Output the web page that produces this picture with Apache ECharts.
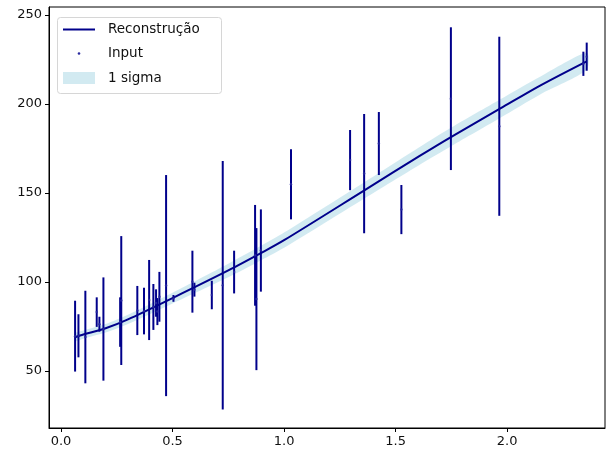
<!DOCTYPE html>
<html>
<head>
<meta charset="utf-8">
<script src="https://cdn.jsdelivr.net/npm/echarts@6/dist/echarts.min.js"></script>
<style>
  html, body { margin: 0; padding: 0; background: #fff; }
  #chart { width: 610px; height: 455px; }
</style>
</head>
<body>
<div id="chart"></div>
<script>
// input points with 1-sigma error bars
const inputX = [0.063, 0.078, 0.109, 0.160, 0.172, 0.190, 0.265, 0.270, 0.342, 0.372, 0.395, 0.414, 0.426, 0.432, 0.441, 0.471, 0.504, 0.589, 0.598, 0.676, 0.725, 0.776, 0.870, 0.876, 0.896, 1.031, 1.296, 1.359, 1.425, 1.526, 1.748, 1.965, 2.342, 2.357];
const inputY = [69.6, 69.8, 69.1, 83.1, 76.3, 73.6, 77.5, 89.6, 84.0, 83.7, 89.9, 86.0, 88.2, 83.4, 91.7, 98.0, 90.8, 100.2, 95.7, 92.7, 98.2, 105.6, 115.0, 90.4, 117.7, 154.9, 168.5, 160.9, 177.8, 140.7, 203.0, 187.5, 222.6, 226.6];
const inputErr = [19.9, 12.1, 26.0, 8.3, 4.2, 29.0, 13.9, 36.2, 13.8, 13.1, 22.5, 12.9, 7.7, 7.6, 14.0, 62.1, 1.9, 17.4, 3.9, 8.0, 69.8, 12.0, 28.3, 39.9, 23.1, 19.7, 16.9, 33.5, 17.7, 13.8, 40.1, 50.3, 6.8, 7.9];

// reconstruction and its 1-sigma band
const recoX = [0.063, 0.1, 0.2, 0.3, 0.5, 0.75, 0.9, 1.0, 1.36, 1.61, 1.75, 1.97, 2.15, 2.357];
const recoY = [69, 70.5, 74, 79, 91, 106.5, 116.5, 123.5, 151.5, 171, 181.6, 197.5, 210.5, 224];
const recoSigma = [2.2, 2.3, 2.4, 2.6, 3.0, 3.8, 4.1, 4.3, 4.6, 5.0, 5.2, 5.2, 5.0, 4.8];

const xTicks = [0, 0.5, 1, 1.5, 2];
const yTicks = [50, 100, 150, 200, 250];

const navy = '#00008b';
const bandColor = 'rgba(173,216,230,0.55)';
const font = 'DejaVu Sans';

const chart = echarts.init(document.getElementById('chart'));

const errData = inputX.map((x, i) => [x, inputY[i] - inputErr[i], inputY[i] + inputErr[i]]);
const bandData = recoX.map((x, i) => [x, recoY[i] - recoSigma[i], recoY[i] + recoSigma[i]]);

const axisCommon = {
  type: 'value',
  axisLine: { show: true, onZero: false, lineStyle: { color: '#000', width: 1 } },
  axisTick: { show: true, inside: false, length: 4, lineStyle: { color: '#000' } },
  splitLine: { show: false },
  axisLabel: { color: '#111', fontFamily: font, fontSize: 13 }
};

const option = {
  animation: false,
  grid: {
    left: 49, right: 5, top: 7, bottom: 27,
    show: true, borderColor: '#000', borderWidth: 1, backgroundColor: '#fff'
  },
  xAxis: {
    ...axisCommon,
    min: -0.054,
    max: 2.439,
    axisTick: { ...axisCommon.axisTick, customValues: xTicks },
    axisLabel: { ...axisCommon.axisLabel, customValues: xTicks, margin: 7,
      formatter: (v) => v.toFixed(1) }
  },
  yAxis: {
    ...axisCommon,
    min: 18,
    max: 254.5,
    axisTick: { ...axisCommon.axisTick, customValues: yTicks },
    axisLabel: { ...axisCommon.axisLabel, customValues: yTicks, margin: 7 }
  },
  series: [
    {
      name: '1 sigma',
      type: 'custom',
      data: bandData,
      z: 1,
      silent: true,
      renderItem: (params, api) => {
        if (params.dataIndex !== 0) return null;
        const upper = bandData.map((d) => api.coord([d[0], d[2]]));
        const lower = bandData.map((d) => api.coord([d[0], d[1]])).reverse();
        return {
          type: 'polygon',
          shape: { points: upper.concat(lower), smooth: 0.25 },
          style: { fill: bandColor, stroke: null }
        };
      }
    },
    {
      name: 'errorbars',
      type: 'custom',
      data: errData,
      z: 2,
      silent: true,
      renderItem: (params, api) => {
        const lo = api.coord([api.value(0), api.value(1)]);
        const hi = api.coord([api.value(0), api.value(2)]);
        return {
          type: 'line',
          shape: { x1: lo[0], y1: lo[1], x2: hi[0], y2: hi[1] },
          style: { stroke: navy, lineWidth: 2 }
        };
      }
    },
    {
      name: 'Reconstrução',
      type: 'line',
      data: recoX.map((x, i) => [x, recoY[i]]),
      smooth: 0.3,
      showSymbol: false,
      z: 3,
      lineStyle: { color: navy, width: 2 }
    },
    {
      name: 'Input',
      type: 'scatter',
      data: inputX.map((x, i) => [x, inputY[i]]),
      symbolSize: 2.5,
      z: 4,
      itemStyle: { color: '#2a2aa0' }
    }
  ],
  graphic: [
    {
      type: 'rect', left: 57, top: 17, z: 100,
      shape: { width: 164, height: 76, r: 3 },
      style: { fill: 'rgba(255,255,255,0.85)', stroke: '#d6d6d6', lineWidth: 1 }
    },
    {
      type: 'line', z: 101,
      shape: { x1: 63, y1: 29.5, x2: 95, y2: 29.5 },
      style: { stroke: navy, lineWidth: 2 }
    },
    {
      type: 'circle', z: 101,
      shape: { cx: 79, cy: 53.5, r: 1.3 },
      style: { fill: '#2a2aa0' }
    },
    {
      type: 'rect', z: 101,
      shape: { x: 63, y: 72, width: 32, height: 12 },
      style: { fill: bandColor }
    },
    { type: 'text', x: 108, y: 29.5, z: 101,
      style: { text: 'Reconstrução', fill: '#111', font: '13.5px "DejaVu Sans"', verticalAlign: 'middle' } },
    { type: 'text', x: 108, y: 53.5, z: 101,
      style: { text: 'Input', fill: '#111', font: '13.5px "DejaVu Sans"', verticalAlign: 'middle' } },
    { type: 'text', x: 108, y: 78, z: 101,
      style: { text: '1 sigma', fill: '#111', font: '13.5px "DejaVu Sans"', verticalAlign: 'middle' } }
  ]
};

chart.setOption(option);
window.addEventListener('resize', () => chart.resize());
</script>
</body>
</html>
